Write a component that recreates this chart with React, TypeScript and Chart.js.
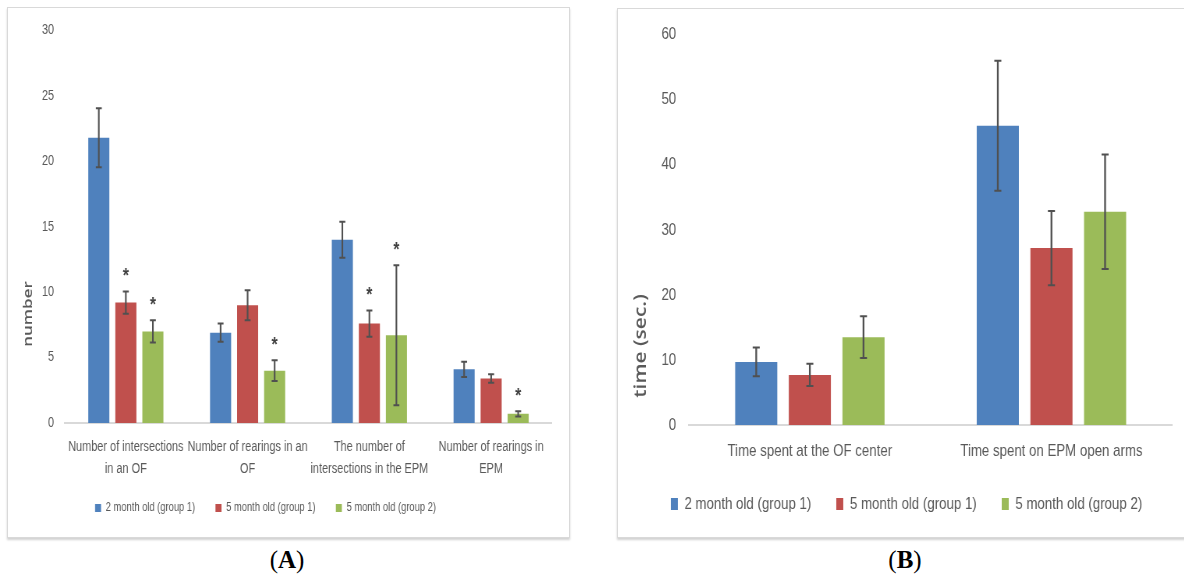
import React, { useEffect, useRef } from "react";
import { Chart, registerables } from "chart.js";

Chart.register(...registerables);

// ---------- shared ----------
const seriesNames = ["2 month old (group 1)", "5 month old (group 1)", "5 month old (group 2)"];
const seriesColors = ["#4F81BD", "#C0504D", "#9BBB59"];

// ---------- panel A ----------
const categoriesA = [
  ["Number of intersections", "in an OF"],
  ["Number of rearings in an", "OF"],
  ["The number of", "intersections in the EPM"],
  ["Number of rearings in", "EPM"],
];
const valuesA2m1 = [21.8, 6.9, 14.0, 4.1];
const valuesA5m1 = [9.2, 9.0, 7.6, 3.4];
const valuesA5m2 = [7.0, 4.0, 6.7, 0.7];
const errorsA2m1 = [2.25, 0.7, 1.37, 0.58];
const errorsA5m1 = [0.85, 1.15, 1.0, 0.32];
const errorsA5m2 = [0.85, 0.8, 5.35, 0.2];
const signifA2m1 = [false, false, false, false];
const signifA5m1 = [true, false, true, false];
const signifA5m2 = [true, true, true, true];
const yMaxA = 30;
const yStepA = 5;
const yTitleA = "number";

// ---------- panel B ----------
const categoriesB = ["Time spent at the OF center", "Time spent on EPM open arms"];
const valuesB2m1 = [9.7, 46.0];
const valuesB5m1 = [7.7, 27.2];
const valuesB5m2 = [13.5, 32.8];
const errorsB2m1 = [2.2, 10.0];
const errorsB5m1 = [1.7, 5.7];
const errorsB5m2 = [3.2, 8.8];
const yMaxB = 60;
const yStepB = 10;
const yTitleB = "time (sec.)";

// The figure is horizontally condensed: canvases are drawn wider and squeezed by SX.
const SX = 0.78;
const sans = "'Liberation Sans', Arial, sans-serif";
const textGray = "#595959";

const errorBarPlugin = {
  id: "errorBars",
  afterDatasetsDraw(chart: any, _args: any, opts: any) {
    const ctx = chart.ctx;
    const y = chart.scales.y;
    chart.data.datasets.forEach((ds: any, di: number) => {
      const meta = chart.getDatasetMeta(di);
      meta.data.forEach((bar: any, i: number) => {
        const v = ds.data[i];
        const e = ds.errors[i];
        const yt = y.getPixelForValue(v + e);
        const yb = y.getPixelForValue(Math.max(0, v - e));
        ctx.save();
        ctx.strokeStyle = opts.color;
        ctx.lineWidth = opts.width;
        ctx.beginPath();
        ctx.moveTo(bar.x, yt);
        ctx.lineTo(bar.x, yb);
        ctx.stroke();
        ctx.lineWidth = opts.capWidth;
        ctx.beginPath();
        ctx.moveTo(bar.x - opts.cap, yt);
        ctx.lineTo(bar.x + opts.cap, yt);
        ctx.moveTo(bar.x - opts.cap, yb);
        ctx.lineTo(bar.x + opts.cap, yb);
        ctx.stroke();
        if (ds.signif && ds.signif[i]) {
          ctx.fillStyle = opts.starColor;
          ctx.font = opts.starFont;
          ctx.textAlign = "center";
          ctx.textBaseline = "alphabetic";
          ctx.fillText("*", bar.x, yt - opts.starGap);
        }
        ctx.restore();
      });
    });
  },
};

const yTitlePlugin = {
  id: "yTitle",
  afterDraw(chart: any, _args: any, opts: any) {
    const ctx = chart.ctx;
    ctx.save();
    ctx.translate(opts.x, opts.y);
    ctx.rotate(-Math.PI / 2);
    ctx.font = opts.font;
    ctx.fillStyle = opts.color;
    ctx.textAlign = "center";
    ctx.textBaseline = "middle";
    ctx.fillText(opts.text, 0, 0);
    ctx.restore();
  },
};

function makeDatasets(values: number[][], errors: number[][], signif?: boolean[][]) {
  return values.map((d, k) => ({
    label: seriesNames[k],
    data: d,
    errors: errors[k],
    signif: signif ? signif[k] : undefined,
    backgroundColor: seriesColors[k],
    borderWidth: 0,
  }));
}

// Panel A canvas geometry (page px)
const A_LEFT = -21;
const A_WI = 735;
const A_TOP = 8;
const A_H = 529;
// Panel B canvas geometry
const B_LEFT = 617;
const B_WI = 742;
const B_TOP = 8;
const B_H = 529;

const noSidePadding = (s: any) => {
  s.paddingLeft = 0;
  s.paddingRight = 0;
};

function configA(): any {
  return {
    type: "bar",
    data: {
      labels: categoriesA,
      datasets: makeDatasets(
        [valuesA2m1, valuesA5m1, valuesA5m2],
        [errorsA2m1, errorsA5m1, errorsA5m2],
        [signifA2m1, signifA5m1, signifA5m2]
      ),
    },
    options: {
      animation: false,
      responsive: false,
      events: [],
      layout: { padding: { left: 0, right: 0, top: 21, bottom: 13 } },
      datasets: { bar: { categoryPercentage: 0.666, barPercentage: 0.78 } },
      scales: {
        x: {
          grid: { display: false, drawTicks: false },
          border: { display: true, color: "#d9d9d9", width: 2 },
          ticks: {
            color: textGray,
            font: { family: sans, size: 14, lineHeight: 22 / 14 },
            padding: 13,
            maxRotation: 0,
            minRotation: 0,
            autoSkip: false,
          },
          afterFit: (s: any) => {
            s.height = 53;
            noSidePadding(s);
          },
        },
        y: {
          min: 0,
          max: yMaxA,
          grid: { display: false, drawTicks: false },
          border: { display: false },
          ticks: { stepSize: yStepA, color: textGray, font: { family: sans, size: 14 }, padding: 14 },
          afterFit: (s: any) => {
            s.width = (65 - A_LEFT) / SX;
          },
        },
      },
      plugins: {
        legend: {
          position: "bottom",
          labels: {
            boxWidth: 7.7,
            boxHeight: 8,
            padding: 26,
            color: textGray,
            font: { family: sans, size: 12 },
          },
        },
        tooltip: { enabled: false },
        errorBars: {
          color: "#505050",
          width: 2.1,
          capWidth: 2,
          cap: 3.8,
          starGap: 9,
          starColor: "#404040",
          starFont: "bold 20px 'Liberation Sans', sans-serif",
        },
        yTitle: {
          text: yTitleA,
          x: (28 - A_LEFT) / SX,
          y: 306,
          font: "600 17px 'Open Sans', sans-serif",
          color: textGray,
        },
      },
    },
    plugins: [errorBarPlugin, yTitlePlugin],
  };
}

function configB(): any {
  return {
    type: "bar",
    data: {
      labels: categoriesB,
      datasets: makeDatasets([valuesB2m1, valuesB5m1, valuesB5m2], [errorsB2m1, errorsB5m1, errorsB5m2]),
    },
    options: {
      animation: false,
      responsive: false,
      events: [],
      layout: { padding: { left: 0, right: 0, top: 26, bottom: 14.5 } },
      datasets: { bar: { categoryPercentage: 0.666, barPercentage: 0.785 } },
      scales: {
        x: {
          grid: { display: false, drawTicks: false },
          border: { display: true, color: "#d9d9d9", width: 2 },
          ticks: {
            color: textGray,
            font: { family: sans, size: 17, lineHeight: 1.2 },
            padding: 16,
            maxRotation: 0,
            minRotation: 0,
            autoSkip: false,
          },
          afterFit: (s: any) => {
            s.height = 38.5;
            noSidePadding(s);
          },
        },
        y: {
          min: 0,
          max: yMaxB,
          grid: { display: false, drawTicks: false },
          border: { display: false },
          ticks: { stepSize: yStepB, color: textGray, font: { family: sans, size: 17 }, padding: 16.5 },
          afterFit: (s: any) => {
            s.width = (689 - B_LEFT) / SX;
          },
        },
        y2: {
          type: "linear",
          position: "right",
          display: true,
          min: 0,
          max: 1,
          grid: { display: false, drawTicks: false },
          border: { display: false },
          ticks: { display: false },
          afterFit: (s: any) => {
            s.width = B_WI - (1172 - B_LEFT) / SX;
          },
        },
      },
      plugins: {
        legend: {
          position: "bottom",
          labels: {
            boxWidth: 9,
            boxHeight: 12,
            padding: 32,
            color: textGray,
            font: { family: sans, size: 17 },
          },
        },
        tooltip: { enabled: false },
        errorBars: {
          color: "#505050",
          width: 2.3,
          capWidth: 2,
          cap: 4.5,
          starGap: 9,
          starColor: "#404040",
          starFont: "bold 20px 'Liberation Sans', sans-serif",
        },
        yTitle: {
          text: yTitleB,
          x: (641 - B_LEFT) / SX,
          y: 338,
          font: "600 21px 'Open Sans', sans-serif",
          color: textGray,
        },
      },
    },
    plugins: [errorBarPlugin, yTitlePlugin],
  };
}

function ChartCanvas(props: { make: () => any; left: number; top: number; width: number; height: number }) {
  const ref = useRef<HTMLCanvasElement>(null);
  useEffect(() => {
    const chart = new Chart(ref.current as HTMLCanvasElement, props.make());
    return () => chart.destroy();
  }, []);
  return (
    <canvas
      ref={ref}
      width={props.width}
      height={props.height}
      style={{
        position: "absolute",
        left: props.left,
        top: props.top,
        width: props.width * SX,
        height: props.height,
      }}
    />
  );
}

const frameStyle: React.CSSProperties = {
  position: "absolute",
  boxSizing: "border-box",
  border: "1px solid #d9d9d9",
  background: "#ffffff",
  boxShadow: "0 2px 2px rgba(0,0,0,0.18)",
};

const panelLabelStyle: React.CSSProperties = {
  position: "absolute",
  top: 546,
  width: 100,
  height: 28,
  lineHeight: "28px",
  textAlign: "center",
  fontFamily: "'Liberation Serif', 'DejaVu Serif', serif",
  fontSize: 25,
  color: "#000",
};

export default function App() {
  return (
    <div
      style={{
        position: "absolute",
        left: 0,
        top: 0,
        width: 1184,
        height: 576,
        overflow: "hidden",
        background: "#ffffff",
      }}
    >
      <div style={{ ...frameStyle, left: 7, top: 7, width: 563, height: 531 }} />
      <div style={{ ...frameStyle, left: 617, top: 8, width: 600, height: 530 }} />
      <ChartCanvas make={configA} left={A_LEFT} top={A_TOP} width={A_WI} height={A_H} />
      <ChartCanvas make={configB} left={B_LEFT} top={B_TOP} width={B_WI} height={B_H} />
      <div style={{ ...panelLabelStyle, left: 237 }}>
        (<b>A</b>)
      </div>
      <div style={{ ...panelLabelStyle, left: 855 }}>
        (<b>B</b>)
      </div>
    </div>
  );
}
